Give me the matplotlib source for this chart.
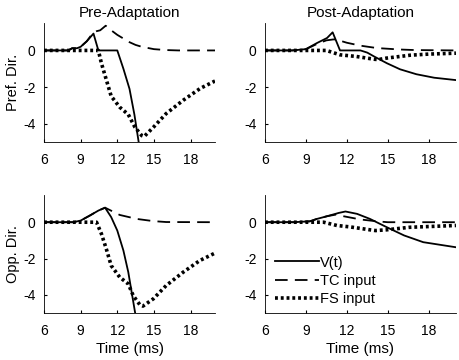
import matplotlib
matplotlib.use("Agg")
import matplotlib.pyplot as plt

plt.rcParams['font.family'] = ['Liberation Sans', 'DejaVu Sans']
plt.rcParams['font.size'] = 10
plt.rcParams['axes.unicode_minus'] = False

# Pre-adaptation, preferred direction
pre_pref_v_t = [6, 8, 8.3, 8.7, 9, 9.5, 10.05, 10.45, 12, 12.5, 13.0, 13.4, 13.75, 13.9]
pre_pref_v = [0, 0, 0.12, 0.12, 0.2, 0.5, 0.92, 0, 0, -1.0, -2.1, -3.5, -5.0, -5.6]
pre_pref_tc_t = [6, 8, 8.3, 8.7, 9, 9.5, 10, 10.3, 10.6, 11.05, 11.5, 12, 12.5, 13, 13.5, 14, 15, 16, 17, 20]
pre_pref_tc = [0, 0, 0.12, 0.12, 0.2, 0.5, 0.95, 1.05, 1.1, 1.35, 1.1, 0.85, 0.65, 0.45, 0.3, 0.2, 0.07, 0.02, 0, 0]
pre_pref_fs_t = [6, 10.45, 10.7, 11.1, 11.5, 12.2, 12.9, 13.45, 14.0, 14.2, 14.95, 16, 17.4, 18.8, 20]
pre_pref_fs = [0, 0, -0.7, -1.6, -2.5, -3.1, -3.5, -4.2, -4.65, -4.7, -4.2, -3.45, -2.72, -2.07, -1.67]

# Post-adaptation, preferred direction
post_pref_v_t = [6, 8, 9, 9.8, 10.55, 10.96, 11.5, 13, 13.5, 14, 14.94, 15.9, 17.1, 18.4, 20]
post_pref_v = [0, 0, 0.07, 0.4, 0.68, 0.99, 0, 0, -0.12, -0.33, -0.7, -1.03, -1.3, -1.49, -1.62]
post_pref_tc_t = [6, 8, 9, 9.8, 10.5, 11.0, 11.2, 12, 13, 14.2, 15.9, 17, 20]
post_pref_tc = [0, 0, 0.07, 0.35, 0.55, 0.6, 0.6, 0.42, 0.26, 0.13, 0.05, 0.02, 0]
post_pref_fs_t = [6, 10.5, 11.5, 12.7, 14.0, 14.3, 14.9, 16.65, 18, 20]
post_pref_fs = [0, 0, -0.24, -0.33, -0.48, -0.5, -0.42, -0.26, -0.2, -0.15]

# Pre-adaptation, opposite direction
pre_opp_v_t = [6, 8.4, 9, 9.76, 10.45, 11, 11.5, 12, 12.5, 12.9, 13.45, 13.6]
pre_opp_v = [0, 0, 0.09, 0.37, 0.64, 0.8, 0.28, -0.46, -1.56, -2.75, -4.95, -5.5]
pre_opp_tc_t = [6, 8.4, 9, 9.76, 10.45, 11, 12.2, 13.6, 14.95, 16, 20]
pre_opp_tc = [0, 0, 0.09, 0.37, 0.64, 0.8, 0.4, 0.18, 0.06, 0.01, 0]
pre_opp_fs_t = [6, 10.3, 10.7, 11.1, 11.5, 12.2, 12.9, 13.3, 13.85, 14.1, 14.95, 16, 17.4, 18.76, 20]
pre_opp_fs = [0, 0, -0.64, -1.47, -2.39, -3.03, -3.4, -4.04, -4.55, -4.62, -4.22, -3.49, -2.75, -2.11, -1.7]

# Post-adaptation, opposite direction
post_opp_v_t = [6, 8.1, 9.3, 9.8, 10.55, 11.4, 11.9, 12.75, 13.7, 14.94, 16.2, 17.6, 20]
post_opp_v = [0, 0, 0.05, 0.18, 0.33, 0.51, 0.59, 0.46, 0.18, -0.28, -0.73, -1.1, -1.38]
post_opp_tc_t = [6, 8.1, 9.3, 9.8, 10.55, 11.2, 11.75, 13, 14.2, 15, 20]
post_opp_tc = [0, 0, 0.05, 0.18, 0.33, 0.42, 0.33, 0.15, 0.05, 0, 0]
post_opp_fs_t = [6, 10.3, 11.27, 12.25, 13.7, 14.1, 14.9, 16.6, 20]
post_opp_fs = [0, 0, -0.18, -0.26, -0.42, -0.46, -0.42, -0.28, -0.18]

xticks = [6, 9, 12, 15, 18]
yticks = [-4, -2, 0]

fig = plt.figure(figsize=(4.59, 3.6), dpi=100)
ax_tl = fig.add_axes([0.0959, 0.6056, 0.3725, 0.3306])
ax_tr = fig.add_axes([0.5773, 0.6056, 0.4161, 0.3306])
ax_bl = fig.add_axes([0.0959, 0.1306, 0.3725, 0.3278])
ax_br = fig.add_axes([0.5773, 0.1306, 0.4161, 0.3278])

panels = [
    (ax_tl, pre_pref_v_t, pre_pref_v, pre_pref_tc_t, pre_pref_tc, pre_pref_fs_t, pre_pref_fs),
    (ax_tr, post_pref_v_t, post_pref_v, post_pref_tc_t, post_pref_tc, post_pref_fs_t, post_pref_fs),
    (ax_bl, pre_opp_v_t, pre_opp_v, pre_opp_tc_t, pre_opp_tc, pre_opp_fs_t, pre_opp_fs),
    (ax_br, post_opp_v_t, post_opp_v, post_opp_tc_t, post_opp_tc, post_opp_fs_t, post_opp_fs),
]

for ax, vt, v, tct, tc, fst, fs in panels:
    ax.plot(vt, v, color='black', lw=1.3, label='V(t)')
    ax.plot(tct, tc, color='black', lw=1.3, dashes=(7, 4), label='TC input')
    ax.plot(fst, fs, color='black', lw=2.6, linestyle=(0, (0.8, 0.8)), label='FS input')
    ax.set_xlim(6, 20)
    ax.set_ylim(-5, 1.5)
    ax.set_xticks(xticks)
    ax.set_yticks(yticks)
    ax.tick_params(direction='in', length=2.5, labelsize=10)
    ax.tick_params(axis='x', pad=8)
    ax.tick_params(axis='y', pad=6)
    for s in ['top', 'right']:
        ax.spines[s].set_visible(False)
    ax.spines['left'].set_linewidth(0.6)
    ax.spines['bottom'].set_linewidth(0.6)

ax_tl.set_title('Pre-Adaptation', fontsize=11, pad=4)
ax_tr.set_title('Post-Adaptation', fontsize=11, pad=4)
ax_tl.set_ylabel('Pref. Dir.', fontsize=10.5, labelpad=2)
ax_bl.set_ylabel('Opp. Dir.', fontsize=10.5, labelpad=2)
ax_bl.set_xlabel('Time (ms)', fontsize=11, labelpad=3)
ax_br.set_xlabel('Time (ms)', fontsize=11, labelpad=3)

ax_br.legend(loc='lower left', bbox_to_anchor=(0.0, -0.03), frameon=False,
             handlelength=3.0, handletextpad=0.1, labelspacing=0.3,
             borderaxespad=0.3, fontsize=10.5)

fig.savefig('out.png', dpi=100)
